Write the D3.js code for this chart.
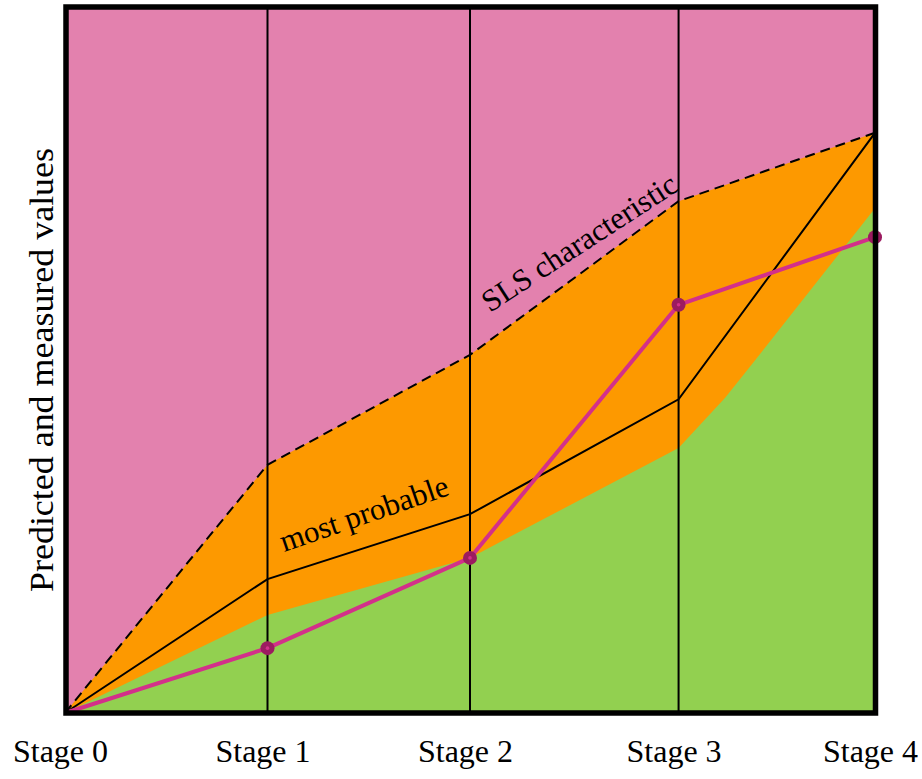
<!DOCTYPE html>
<html>
<head>
<meta charset="utf-8">
<script src="https://cdn.jsdelivr.net/npm/d3@7"></script>
<style>
  html, body { margin: 0; padding: 0; background: #ffffff; }
  svg { display: block; }
</style>
</head>
<body>
<svg id="chart" width="922" height="779"></svg>
<script>
// Stage labels and where each stage falls on the progress axis
const stages = ["Stage 0", "Stage 1", "Stage 2", "Stage 3", "Stage 4"];
const stagePos = [0, 1, 2, 3.03, 4];

// Upper bound: SLS characteristic (dashed)
const slsValues = [0, 35.2, 50.8, 72.6, 82.3];
// Most probable prediction
const probableValues = [0, 19.0, 28.2, 44.5, 82.3];
// Lower bound of the predicted band (top of the green region)
const lowerPos = [0, 1, 2, 3.03, 3.26, 3.41, 4];
const lowerValues = [0, 13.9, 22.0, 37.6, 44.7, 50.1, 71.6];
// Measured values at each stage
const measuredValues = [0, 9.2, 22.0, 57.9, 67.5];

const colors = {
  pink: "#e381ae",
  orange: "#fd9900",
  green: "#92d050",
  measured: "#d3308a",
  marker: "#9c1b60"
};

const serif = "'Liberation Serif', 'Times New Roman', serif";
const plot = { left: 65, right: 875, top: 8, bottom: 713 };

const svg = d3.select("#chart");

const x = d3.scaleLinear().domain([0, 4]).range([plot.left, plot.right]);
const y = d3.scaleLinear().domain([0, 100]).range([plot.bottom, plot.top]);

const sls = stagePos.map((p, i) => ({ p, v: slsValues[i] }));
const probable = stagePos.map((p, i) => ({ p, v: probableValues[i] }));
const lower = lowerPos.map((p, i) => ({ p, v: lowerValues[i] }));
const measured = stagePos.map((p, i) => ({ p, v: measuredValues[i] }));

// Background region above the SLS characteristic
svg.append("rect")
  .attr("x", plot.left).attr("y", plot.top)
  .attr("width", plot.right - plot.left).attr("height", plot.bottom - plot.top)
  .attr("fill", colors.pink);

// Band between SLS characteristic and the lower bound
const area = d3.area().x(d => x(d.p)).y0(y(0)).y1(d => y(d.v));
svg.append("path").datum(sls)
  .attr("d", area)
  .attr("fill", colors.orange);

svg.append("path").datum(lower)
  .attr("d", area)
  .attr("fill", colors.green);

// Vertical stage lines
svg.append("g").selectAll("line")
  .data(stagePos.slice(1, 4))
  .join("line")
  .attr("x1", d => x(d)).attr("x2", d => x(d))
  .attr("y1", plot.top).attr("y2", plot.bottom)
  .attr("stroke", "#000").attr("stroke-width", 2);

const line = d3.line().x(d => x(d.p)).y(d => y(d.v));

svg.append("path").datum(sls)
  .attr("d", line)
  .attr("fill", "none")
  .attr("stroke", "#000").attr("stroke-width", 2)
  .attr("stroke-dasharray", "10,6");

svg.append("path").datum(probable)
  .attr("d", line)
  .attr("fill", "none")
  .attr("stroke", "#000").attr("stroke-width", 2);

svg.append("path").datum(measured)
  .attr("d", line)
  .attr("fill", "none")
  .attr("stroke", colors.measured).attr("stroke-width", 4)
  .attr("stroke-linejoin", "round");

const markers = svg.append("g").selectAll("g")
  .data(measured.slice(1))
  .join("g")
  .attr("transform", d => `translate(${x(d.p)},${y(d.v)})`);
markers.append("circle").attr("r", 7).attr("fill", colors.marker);
markers.append("circle").attr("r", 1.8).attr("fill", colors.measured);

// Curve labels
svg.append("text")
  .attr("transform", "translate(284,552) rotate(-19)")
  .style("font-family", serif)
  .style("font-size", "31px")
  .attr("fill", "#000")
  .text("most probable");

svg.append("text")
  .attr("transform", "translate(490,313) rotate(-33)")
  .style("font-family", serif)
  .style("font-size", "31px")
  .attr("fill", "#000")
  .text("SLS characteristic");

// Frame
svg.append("rect")
  .attr("x", 66).attr("y", 7)
  .attr("width", 809.5).attr("height", 706)
  .attr("fill", "none")
  .attr("stroke", "#000").attr("stroke-width", 5.5);

// Stage axis
const xAxis = d3.axisBottom(x)
  .tickValues(stagePos)
  .tickFormat((d, i) => stages[i])
  .tickSize(0)
  .tickPadding(0);

const gx = svg.append("g")
  .attr("transform", `translate(-5,${plot.bottom})`)
  .call(xAxis);
gx.select(".domain").remove();
gx.selectAll("text")
  .style("font-family", serif)
  .style("font-size", "32px")
  .attr("fill", "#000")
  .attr("dy", null)
  .attr("y", 49);

// Vertical axis title
svg.append("text")
  .attr("transform", "translate(53,370) rotate(-90)")
  .attr("text-anchor", "middle")
  .style("font-family", serif)
  .style("font-size", "33px")
  .attr("fill", "#000")
  .attr("textLength", 444)
  .attr("lengthAdjust", "spacingAndGlyphs")
  .text("Predicted and measured values");
</script>
</body>
</html>
